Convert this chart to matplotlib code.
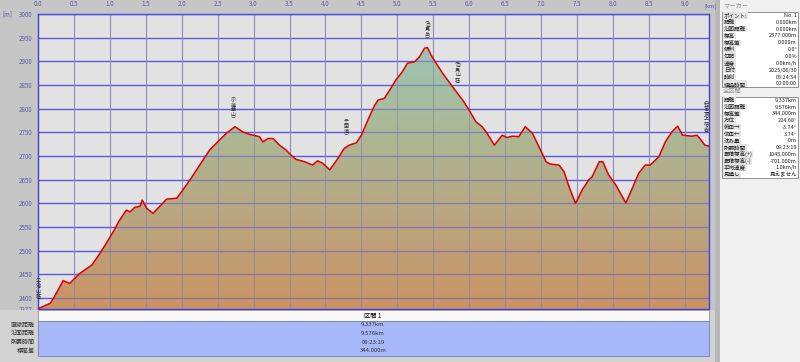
import matplotlib.pyplot as plt
import matplotlib as mpl
import numpy as np
from matplotlib.patches import Rectangle

plt.rcParams['font.family'] = ['Noto Sans CJK JP', 'DejaVu Sans']

# 距離 [km] と 標高 [m]
dist = [0.0, 0.02, 0.17, 0.24, 0.35, 0.44, 0.58, 0.75, 0.86, 0.95, 1.07, 1.12, 1.23, 1.28,
        1.35, 1.42, 1.45, 1.51, 1.60, 1.67, 1.79, 1.93, 2.0, 2.13, 2.25, 2.39, 2.5, 2.62,
        2.74, 2.85, 2.94, 3.08, 3.13, 3.2, 3.27, 3.36, 3.45, 3.52, 3.59, 3.71, 3.82, 3.89,
        3.96, 4.06, 4.16, 4.26, 4.33, 4.43, 4.5, 4.59, 4.68, 4.73, 4.82, 4.91, 4.98, 5.07,
        5.14, 5.24, 5.31, 5.38, 5.42, 5.47, 5.54, 5.63, 5.77, 5.91, 6.0, 6.09, 6.18, 6.25,
        6.35, 6.46, 6.53, 6.6, 6.69, 6.78, 6.88, 6.97, 7.07, 7.13, 7.25, 7.32, 7.39, 7.48,
        7.57, 7.67, 7.71, 7.81, 7.86, 7.94, 8.04, 8.18, 8.27, 8.36, 8.45, 8.52, 8.64, 8.73,
        8.82, 8.9, 8.97, 9.1, 9.17, 9.21, 9.28, 9.337]
elev = [2377, 2379, 2389, 2406, 2437, 2431, 2452, 2470, 2494, 2516, 2546, 2561, 2586, 2582,
        2592, 2594, 2607, 2590, 2579, 2590, 2609, 2611, 2625, 2653, 2681, 2713, 2730, 2748,
        2762, 2751, 2746, 2741, 2730, 2737, 2737, 2723, 2713, 2702, 2693, 2688, 2681, 2690,
        2685, 2671, 2692, 2716, 2723, 2728, 2744, 2776, 2806, 2818, 2822, 2843, 2861, 2878,
        2896, 2899, 2910, 2928, 2929, 2913, 2896, 2875, 2846, 2818, 2797, 2773, 2762, 2748,
        2723, 2744, 2739, 2742, 2741, 2762, 2748, 2720, 2688, 2683, 2681, 2667, 2635, 2600,
        2628, 2651, 2656, 2688, 2688, 2660, 2639, 2601, 2632, 2664, 2681, 2681, 2699, 2730,
        2751, 2763, 2744, 2742, 2744, 2737, 2723, 2721]

# 地点名
wp_names = ['大池山荘', '小蓮華山', '三国境', '白馬岳', '白馬山荘', '村営頂上宿舎']
wp_dist = [0.0, 2.72, 4.29, 5.42, 5.84, 9.30]
wp_top = [2450, 2833, 2787, 2992, 2907, 2825]

yticks = [2377, 2400, 2450, 2500, 2550, 2600, 2650, 2700, 2750, 2800, 2850, 2900, 2950, 3000]
xticks = [0.0, 0.5, 1.0, 1.5, 2.0, 2.5, 3.0, 3.5, 4.0, 4.5, 5.0, 5.5, 6.0, 6.5, 7.0, 7.5, 8.0, 8.5, 9.0]

sum_labels = ['直線距離', '沿面距離', '所要時間', '標高差']
sum_values = ['9.337km', '9.576km', '09:23:19', '344.000m']

marker_labels = ['ポイント:', '距離', '沿面距離', '標高', '標高差', '傾斜', '勾配', '速度', '日付', '時刻', '経過時間']
marker_values = ['No. 1', '0.000km', '0.000km', '2377.000m', '0.000m', '0.0°', '0.0%', '0.0km/h',
                 '2025/06/30', '05:24:54', '00:00:00']
all_labels = ['距離', '沿面距離', '標高差', '方位', '俯角→', '仰角←', '沈み量', '所要時間',
              '累積標高(+)', '累積標高(-)', '平均速度', '見通し']
all_values = ['9.337km', '9.576km', '344.000m', '224.68°', '-3.74°', '3.74°', '-0m', '09:23:19',
              '1045.000m', '-701.000m', '1.0km/h', '見えません']

W, H = 800, 362
fig = plt.figure(figsize=(W / 100, H / 100), dpi=100)
fig.patch.set_facecolor('#c6c6c6')


def fx(px):
    return px / W


def fy(py):
    return 1 - py / H


# 下の領域
fig.patches.append(Rectangle((fx(0), fy(362)), fx(715), 52 / H, transform=fig.transFigure,
                             facecolor='#d2d2d2', edgecolor='none', zorder=0))
fig.patches.append(Rectangle((fx(38), fy(321)), 671 / W, 11 / H, transform=fig.transFigure,
                             facecolor='#f8f8f8', edgecolor='#9090a0', lw=0.6, zorder=1))
fig.patches.append(Rectangle((fx(38), fy(356)), 671 / W, 35 / H, transform=fig.transFigure,
                             facecolor='#a8b8f8', edgecolor='#7080c0', lw=0.6, zorder=1))
fig.text(fx(373), fy(315.5), '区間 1', fontsize=4.5, ha='center', va='center')
for i in range(4):
    yy = fy(325 + i * 8.6)
    fig.text(fx(35), yy, sum_labels[i], fontsize=4.3, ha='right', va='center', color='#303030')
    fig.text(fx(373), yy, sum_values[i], fontsize=4.3, ha='center', va='center', color='#303030')

# 右パネル
fig.patches.append(Rectangle((fx(715), 0), 5 / W, 1, transform=fig.transFigure,
                             facecolor='#b8b8b8', edgecolor='none', zorder=0))
fig.patches.append(Rectangle((fx(720), 0), 80 / W, 1, transform=fig.transFigure,
                             facecolor='#f0f0f0', edgecolor='none', zorder=0))
fig.text(fx(723), fy(5), 'マーカー', fontsize=4.5, ha='left', va='center', color='#909090')
fig.text(fx(723), fy(91), '全区間', fontsize=4.5, ha='left', va='center', color='#909090')


def table(top, labels, values, rh):
    n = len(labels)
    fig.patches.append(Rectangle((fx(722), fy(top + n * rh)), 76 / W, n * rh / H,
                                 transform=fig.transFigure, facecolor='white',
                                 edgecolor='#808080', lw=0.6, zorder=1))
    for i in range(n):
        yy = fy(top + (i + 0.5) * rh)
        fig.text(fx(724), yy, labels[i], fontsize=4.0, ha='left', va='center', color='#202020',
                 bbox=dict(boxstyle='square,pad=0.1', facecolor='#e4e4e4', edgecolor='none'))
        fig.text(fx(797), yy, values[i], fontsize=4.0, ha='right', va='center', color='#202020')


table(12, marker_labels, marker_values, 6.85)
table(97, all_labels, all_values, 6.75)

# メインのグラフ
ax = fig.add_axes([fx(38), fy(309), 671 / W, 295 / H])
ax.set_facecolor('#e2e2e2')
ax.set_xlim(0, 9.337)
ax.set_ylim(2377, 3000)

for y in yticks[1:]:
    ax.axhline(y, color='#5a5ae0', lw=0.9, zorder=1)
for x in xticks[1:]:
    ax.axvline(x, color='#9a9ad0', lw=0.8, zorder=1)

poly = ax.fill_between(dist, elev, 2377, color='none', zorder=2)
cmap = mpl.colors.LinearSegmentedColormap.from_list(
    'g', ['#c98f5c', '#b8a27a', '#aab690', '#98c4b0'])
grad = np.linspace(0, 1, 256).reshape(-1, 1)
im = ax.imshow(grad, extent=[0, 9.337, 2377, 2935], origin='lower', aspect='auto',
               cmap=cmap, alpha=0.95, zorder=2)
im.set_clip_path(poly.get_paths()[0], transform=ax.transData)
for y in yticks[1:]:
    ax.axhline(y, color='#5a5ae0', lw=0.9, alpha=0.55, zorder=3)
for x in xticks[1:]:
    ax.axvline(x, color='#8080b0', lw=0.8, alpha=0.5, zorder=3)
ax.plot(dist, elev, color='#e00000', lw=1.1, zorder=4)

ax.xaxis.tick_top()
ax.set_xticks(xticks)
ax.set_xticklabels(['%.1f' % v for v in xticks])
ax.set_yticks(yticks)
ax.tick_params(length=0, labelsize=4.5, labelcolor='#5a5ab0', pad=4)
for s in ax.spines.values():
    s.set_color('#4040e0')
    s.set_linewidth(1.0)
ax.grid(False)
fig.text(fx(2), fy(14), '[m]', fontsize=4.5, ha='left', va='center', color='#5a5ab0')
fig.text(fx(704), fy(6), '[km]', fontsize=4.2, ha='left', va='center', color='#5a5ab0')

for name, d, t in zip(wp_names, wp_dist, wp_top):
    s = '\n'.join('︵' + name + '︶')
    ax.text(d, t, s, fontsize=3.6, ha='center', va='top', linespacing=0.95,
            color='#303030', zorder=5, clip_on=False)

fig.savefig('out.png', dpi=100, facecolor=fig.get_facecolor())
